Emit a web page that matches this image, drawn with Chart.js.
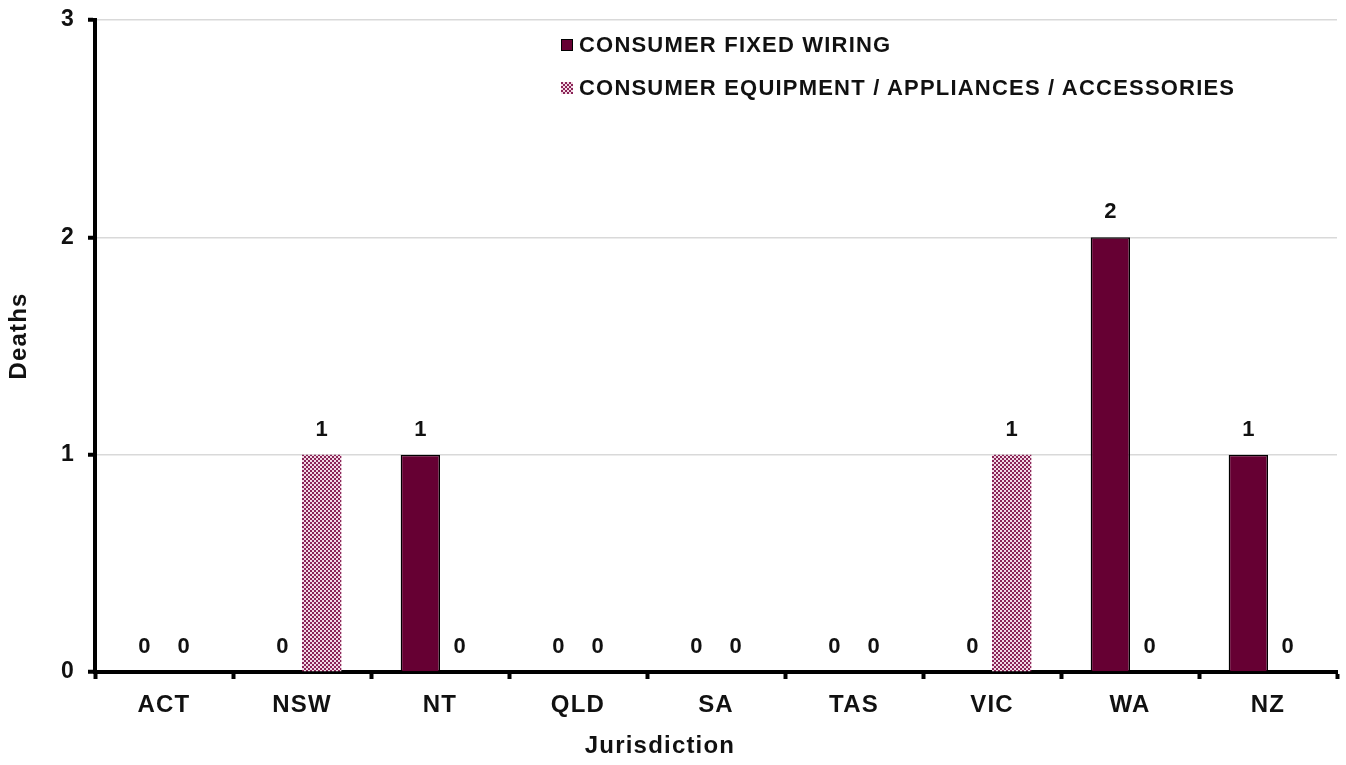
<!DOCTYPE html>
<html>
<head>
<meta charset="utf-8">
<script src="https://cdn.jsdelivr.net/npm/chart.js@4.4.0/dist/chart.umd.min.js"></script>
<style>
  html, body { margin: 0; padding: 0; background: #fff; }
  #wrap { position: relative; width: 1346px; height: 765px; }
  #legend { position: absolute; left: 561px; top: 0; font-family: "Liberation Sans", Arial, sans-serif; font-weight: bold; font-size: 22px; letter-spacing: 1.2px; color: #111; }
  .item { position: absolute; left: 0; white-space: nowrap; display: flex; align-items: center; height: 24px; }
  .sw { width: 12px; height: 12px; margin-right: 6px; box-sizing: border-box; }
</style>
</head>
<body>
<div id="wrap">
  <canvas id="c" width="1346" height="765"></canvas>
  <div id="legend">
    <div class="item" style="top:33px"><div class="sw" id="sw1" style="background:#660033;border:1.5px solid #000"></div><span id="l1"></span></div>
    <div class="item" style="top:76px"><canvas class="sw" id="sw2" width="12" height="12"></canvas><span id="l2"></span></div>
  </div>
</div>
<script>
const categories = ['ACT', 'NSW', 'NT', 'QLD', 'SA', 'TAS', 'VIC', 'WA', 'NZ'];
const seriesNames = ['CONSUMER FIXED WIRING', 'CONSUMER EQUIPMENT / APPLIANCES / ACCESSORIES'];
const fixedWiring = [0, 0, 1, 0, 0, 0, 0, 2, 1];
const equipment = [0, 1, 0, 0, 0, 0, 1, 0, 0];
const yTicks = [0, 1, 2, 3];
const xTitle = 'Jurisdiction';
const yTitle = 'Deaths';

document.getElementById('l1').textContent = seriesNames[0];
document.getElementById('l2').textContent = seriesNames[1];

function makePattern() {
  const p = document.createElement('canvas');
  p.width = 4; p.height = 4;
  const g = p.getContext('2d');
  g.fillStyle = '#f2dae5';
  g.fillRect(0, 0, 4, 4);
  g.fillStyle = '#8a2457';
  g.fillRect(0, 0, 2, 2);
  g.fillRect(2, 2, 2, 2);
  return p;
}
const patCanvas = makePattern();
const ctx = document.getElementById('c').getContext('2d');
const pattern = ctx.createPattern(patCanvas, 'repeat');
const sctx = document.getElementById('sw2').getContext('2d');
sctx.fillStyle = sctx.createPattern(patCanvas, 'repeat');
sctx.fillRect(0, 0, 12, 12);

const FONT = '"Liberation Sans", Arial, sans-serif';

const spacing = {
  id: 'spacing',
  beforeDraw(chart) { chart.ctx.letterSpacing = '1.2px'; }
};

const valueLabels = {
  id: 'valueLabels',
  afterDatasetsDraw(chart) {
    const c = chart.ctx;
    c.save();
    c.letterSpacing = '0px';
    c.font = 'bold 22px ' + FONT;
    c.fillStyle = '#111';
    c.textAlign = 'center';
    c.textBaseline = 'middle';
    chart.data.datasets.forEach((ds, i) => {
      chart.getDatasetMeta(i).data.forEach((bar, j) => {
        c.fillText(String(ds.data[j]), bar.x, bar.y - 25);
      });
    });
    c.restore();
  }
};

const axisTitles = {
  id: 'axisTitles',
  afterDraw(chart) {
    const c = chart.ctx;
    c.save();
    c.letterSpacing = '1.2px';
    c.font = 'bold 24px ' + FONT;
    c.fillStyle = '#111';
    c.textAlign = 'center';
    c.textBaseline = 'middle';
    c.fillText(xTitle, 660, 746);
    c.translate(19, 336);
    c.rotate(-Math.PI / 2);
    c.fillText(yTitle, 0, 0);
    c.restore();
  }
};

new Chart(ctx, {
  type: 'bar',
  data: {
    labels: categories,
    datasets: [
      { label: seriesNames[0], data: fixedWiring, backgroundColor: '#660033', borderColor: '#000', borderWidth: 1.5 },
      { label: seriesNames[1], data: equipment, backgroundColor: pattern, borderWidth: 0 }
    ]
  },
  options: {
    responsive: false,
    animation: false,
    devicePixelRatio: 1,
    layout: { padding: { top: 20, right: 9, left: 0, bottom: 0 } },
    datasets: { bar: { categoryPercentage: 0.57, barPercentage: 1.0 } },
    plugins: { legend: { display: false }, tooltip: { enabled: false } },
    scales: {
      x: {
        afterFit(s) { s.height = 93; s.paddingLeft = 0; s.paddingRight = 0; },
        grid: { drawOnChartArea: false, drawTicks: true, tickLength: 7, tickWidth: 4, tickColor: '#000', offset: true },
        border: { display: true, color: '#000', width: 4 },
        ticks: { color: '#111', font: { family: FONT, weight: 'bold', size: 24 }, padding: 12 },
        title: { display: false, text: xTitle }
      },
      y: {
        min: 0, max: 3,
        afterFit(s) { s.width = 95; s.paddingTop = 0; s.paddingBottom = 0; },
        afterBuildTicks(s) { s.ticks = yTicks.map(v => ({ value: v })); },
        grid: { color: '#d9d9d9', lineWidth: 1.5, drawTicks: true, tickLength: 7, tickWidth: 4, tickColor: '#000' },
        border: { display: true, color: '#000', width: 4 },
        ticks: { color: '#111', font: { family: FONT, weight: 'bold', size: 23 }, padding: 13 },
        title: { display: false, text: yTitle }
      }
    }
  },
  plugins: [spacing, valueLabels, axisTitles]
});
</script>
</body>
</html>
